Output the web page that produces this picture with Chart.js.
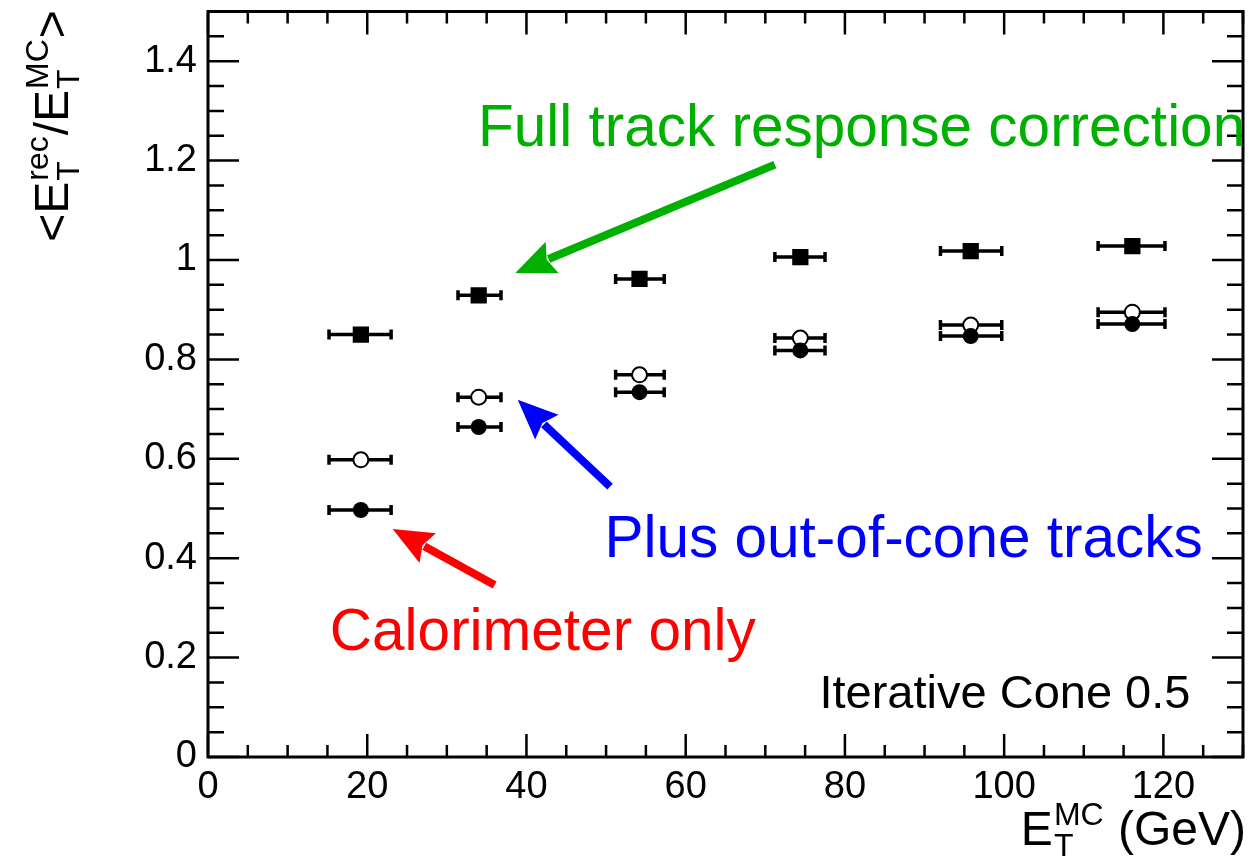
<!DOCTYPE html>
<html>
<head>
<meta charset="utf-8">
<script src="https://cdn.jsdelivr.net/npm/chart.js@4.4.1/dist/chart.umd.min.js"></script>
<style>
  html, body { margin: 0; padding: 0; background: #fff; }
  canvas { display: block; }
</style>
</head>
<body>
<canvas id="myChart" width="1259" height="859"></canvas>
<script>
// * Bin means and horizontal error bar edges (GeV)
const etMean = [19.2, 34.0, 54.2, 74.4, 95.8, 116.1];
const etLow = [15.2, 31.4, 51.2, 71.2, 92.0, 111.8];
const etHigh = [23.0, 36.8, 57.3, 77.5, 99.7, 120.2];

// * Response <E_T rec / E_T MC> per bin
const caloOnly = [0.497, 0.664, 0.734, 0.818, 0.847, 0.871];
const plusOutOfCone = [0.598, 0.724, 0.769, 0.843, 0.869, 0.895];
const fullTrackCorr = [0.850, 0.929, 0.962, 1.006, 1.018, 1.028];

const xTickValues = [0, 20, 40, 60, 80, 100, 120];
const yTickValues = [0, 0.2, 0.4, 0.6, 0.8, 1.0, 1.2, 1.4];

const FONT = "'Liberation Sans', Arial, Helvetica, sans-serif";

// * Text labels and arrows, placed in axis units
const labels = [
    { text: "Full track response correction", x: 33.9, y: 1.229, size: 58.5, color: "#00b000" },
    { text: "Plus out-of-cone tracks", x: 49.8, y: 0.403, size: 58.5, color: "#0000ff" },
    { text: "Calorimeter only", x: 15.3, y: 0.2155, size: 58.5, color: "#ff0000" },
    { text: "Iterative Cone 0.5", x: 76.8, y: 0.0987, size: 47, color: "#000000" },
];
const arrows = [
    { from: [71.2, 1.192], to: [38.6, 0.974], color: "#00b000" },
    { from: [50.5, 0.544], to: [38.9, 0.719], color: "#0000ff" },
    { from: [36.0, 0.346], to: [23.2, 0.459], color: "#ff0000" },
];

const toPoints = (values) =>
    values.map((v, i) => ({ x: etMean[i], y: v, xMin: etLow[i], xMax: etHigh[i] }));

// * Horizontal error bars with small end caps
const errorBars = {
    id: "errorBars",
    beforeDatasetsDraw(chart) {
        const { ctx, scales: { x, y } } = chart;
        ctx.save();
        ctx.strokeStyle = "black";
        ctx.lineWidth = 3.5;
        chart.data.datasets.forEach((ds) => {
            ds.data.forEach((p) => {
                const py = y.getPixelForValue(p.y);
                const x1 = x.getPixelForValue(p.xMin);
                const x2 = x.getPixelForValue(p.xMax);
                ctx.beginPath();
                ctx.moveTo(x1, py);
                ctx.lineTo(x2, py);
                ctx.moveTo(x1, py - 5);
                ctx.lineTo(x1, py + 5);
                ctx.moveTo(x2, py - 5);
                ctx.lineTo(x2, py + 5);
                ctx.stroke();
            });
        });
        ctx.restore();
    },
};

// * Text with a stacked subscript / superscript after a letter
function drawRich(ctx, parts, big, small) {
    let cx = 0;
    parts.forEach((p) => {
        if (typeof p === "string") {
            ctx.font = `${big}px ${FONT}`;
            ctx.fillText(p, cx, 0);
            cx += ctx.measureText(p).width;
        } else {
            ctx.font = `${small}px ${FONT}`;
            ctx.fillText(p.sub, cx + 1, small * 0.33);
            ctx.fillText(p.sup, cx + 1, -big * 0.42);
            cx += Math.max(ctx.measureText(p.sub).width, ctx.measureText(p.sup).width) + 2;
        }
    });
    return cx;
}

function richWidth(ctx, parts, big, small) {
    let w = 0;
    parts.forEach((p) => {
        if (typeof p === "string") {
            ctx.font = `${big}px ${FONT}`;
            w += ctx.measureText(p).width;
        } else {
            ctx.font = `${small}px ${FONT}`;
            w += Math.max(ctx.measureText(p.sub).width, ctx.measureText(p.sup).width) + 2;
        }
    });
    return w;
}

// * Frame, inward ticks on all four sides, axis titles, notes and arrows
const frameAndNotes = {
    id: "frameAndNotes",
    afterDatasetsDraw(chart) {
        const { ctx, chartArea: a, scales: { x, y } } = chart;
        ctx.save();
        ctx.strokeStyle = "black";

        // ticks
        ctx.lineWidth = 2.5;
        ctx.beginPath();
        for (let v = 0; v <= 130.001; v += 5) {
            const px = x.getPixelForValue(v);
            const len = v % 20 === 0 ? 23 : 12;
            ctx.moveTo(px, a.bottom);
            ctx.lineTo(px, a.bottom - len);
            ctx.moveTo(px, a.top);
            ctx.lineTo(px, a.top + len);
        }
        for (let k = 0; k <= 30; k++) {
            const py = y.getPixelForValue(k * 0.05);
            const len = k % 4 === 0 ? 31 : 16;
            ctx.moveTo(a.left, py);
            ctx.lineTo(a.left + len, py);
            ctx.moveTo(a.right, py);
            ctx.lineTo(a.right - len, py);
        }
        ctx.stroke();

        // frame
        ctx.lineWidth = 3;
        ctx.strokeRect(a.left, a.top, a.right - a.left, a.bottom - a.top);

        // arrows
        arrows.forEach((ar) => {
            const x0 = x.getPixelForValue(ar.from[0]);
            const y0 = y.getPixelForValue(ar.from[1]);
            const x1 = x.getPixelForValue(ar.to[0]);
            const y1 = y.getPixelForValue(ar.to[1]);
            const ang = Math.atan2(y1 - y0, x1 - x0);
            const headLen = 40;
            const headHalf = 17;
            const bx = x1 - headLen * Math.cos(ang);
            const by = y1 - headLen * Math.sin(ang);
            ctx.strokeStyle = ar.color;
            ctx.fillStyle = ar.color;
            ctx.lineWidth = 8;
            ctx.beginPath();
            ctx.moveTo(x0, y0);
            ctx.lineTo(bx + 4 * Math.cos(ang), by + 4 * Math.sin(ang));
            ctx.stroke();
            ctx.beginPath();
            ctx.moveTo(x1, y1);
            ctx.lineTo(bx - headHalf * Math.sin(ang), by + headHalf * Math.cos(ang));
            ctx.lineTo(bx + 6 * Math.cos(ang), by + 6 * Math.sin(ang));
            ctx.lineTo(bx + headHalf * Math.sin(ang), by - headHalf * Math.cos(ang));
            ctx.closePath();
            ctx.fill();
        });

        // text notes
        ctx.textBaseline = "alphabetic";
        ctx.textAlign = "left";
        labels.forEach((l) => {
            ctx.font = `${l.size}px ${FONT}`;
            ctx.fillStyle = l.color;
            ctx.fillText(l.text, x.getPixelForValue(l.x), y.getPixelForValue(l.y));
        });

        // axis titles
        ctx.fillStyle = "black";
        const xTitle = ["E", { sub: "T", sup: "MC" }, " (GeV)"];
        const xw = richWidth(ctx, xTitle, 48, 32);
        ctx.save();
        ctx.translate(a.right + 3 - xw, 845);
        drawRich(ctx, xTitle, 48, 32);
        ctx.restore();

        const yTitle = ["<E", { sub: "T", sup: "rec" }, "/E", { sub: "T", sup: "MC" }, ">"];
        const yw = richWidth(ctx, yTitle, 48, 32);
        ctx.save();
        ctx.translate(68, 126 + yw / 2);
        ctx.rotate(-Math.PI / 2);
        drawRich(ctx, yTitle, 48, 32);
        ctx.restore();

        ctx.restore();
    },
};

const config = {
    type: "scatter",
    data: {
        datasets: [
            {
                data: toPoints(caloOnly),
                pointStyle: "circle",
                pointRadius: 8,
                backgroundColor: "black",
                borderColor: "black",
                borderWidth: 0,
            },
            {
                data: toPoints(plusOutOfCone),
                pointStyle: "circle",
                pointRadius: 7.5,
                backgroundColor: "white",
                borderColor: "black",
                borderWidth: 2,
            },
            {
                data: toPoints(fullTrackCorr),
                pointStyle: "rect",
                pointRadius: 11.5,
                backgroundColor: "black",
                borderColor: "black",
                borderWidth: 0,
            },
        ],
    },
    options: {
        responsive: false,
        animation: false,
        events: [],
        layout: { padding: { top: 11, right: 16, left: 0, bottom: 0 } },
        plugins: {
            legend: { display: false },
            tooltip: { enabled: false },
        },
        scales: {
            x: {
                type: "linear",
                min: 0,
                max: 130,
                grid: { display: false, drawTicks: false },
                border: { display: false },
                afterBuildTicks: (s) => {
                    s.ticks = xTickValues.map((v) => ({ value: v }));
                },
                afterFit: (s) => {
                    s.height = 102;
                    s.paddingLeft = 0;
                    s.paddingRight = 0;
                },
                ticks: {
                    autoSkip: false,
                    maxRotation: 0,
                    padding: 8,
                    color: "black",
                    font: { family: FONT, size: 38 },
                    callback: (v) => String(v),
                },
            },
            y: {
                type: "linear",
                min: 0,
                max: 1.5,
                grid: { display: false, drawTicks: false },
                border: { display: false },
                afterBuildTicks: (s) => {
                    s.ticks = yTickValues.map((v) => ({ value: v }));
                },
                afterFit: (s) => {
                    s.width = 208;
                    s.paddingTop = 0;
                    s.paddingBottom = 0;
                },
                ticks: {
                    autoSkip: false,
                    padding: 11,
                    color: "black",
                    font: { family: FONT, size: 38 },
                    callback: (v) => String(+v.toFixed(1)),
                },
            },
        },
    },
    plugins: [errorBars, frameAndNotes],
};

const ctx = document.getElementById("myChart").getContext("2d");
const chart = new Chart(ctx, config);
</script>
</body>
</html>
